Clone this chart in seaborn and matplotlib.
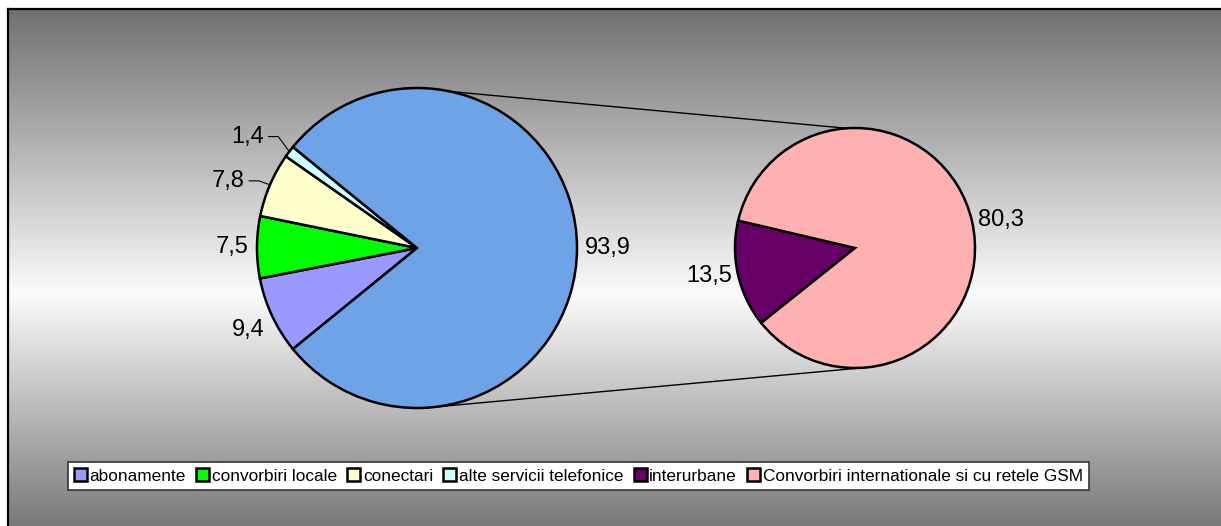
import numpy as np
import matplotlib
matplotlib.use("Agg")
import matplotlib.pyplot as plt
import seaborn as sns

# date
nume = ['abonamente', 'convorbiri locale', 'conectari', 'alte servicii telefonice',
        'interurbane', 'Convorbiri internationale si cu retele GSM']
valori_stanga = [9.4, 7.5, 7.8, 1.4, 93.9]   # ultima felie = restul (detaliat in dreapta)
valori_dreapta = [13.5, 80.3]
culori_stanga = ['#9999ff', '#00ff00', '#ffffcc', '#ccffff', '#6fa3e8']
culori_dreapta = ['#660066', '#ffb0b0']

sns.set_theme(style='white')
plt.rcParams['font.family'] = ['Liberation Sans', 'DejaVu Sans']
plt.rcParams['text.color'] = 'black'

W, H = 1221, 526
fig = plt.figure(figsize=(W / 100, H / 100), dpi=100)
fig.patch.set_facecolor('white')

# fundal cu gradient gri
bg = fig.add_axes([8 / W, 0, 1 - 8 / W, (H - 9) / H])
rows = np.arange(9, H)
shade = np.interp(rows, [9, 293, 526], [112, 250, 120]) / 255
bg.imshow(shade[:, None], cmap='gray', vmin=0, vmax=1, aspect='auto', extent=[0, 1, 0, 1])
bg.set_xticks([])
bg.set_yticks([])
for s in ['right', 'bottom']:
    bg.spines[s].set_visible(False)
for s in ['left', 'top']:
    bg.spines[s].set_color('black')
    bg.spines[s].set_linewidth(1.6)

ax = fig.add_axes([0, 0, 1, 1])
ax.patch.set_alpha(0)

c1, r1 = (417, H - 248), 160
c2, r2 = (855, H - 248), 120
start1 = 180 + sum(valori_stanga[:4]) / sum(valori_stanga) * 180
start2 = 218.6
wp = dict(edgecolor='black', linewidth=1.8)

w1, _ = ax.pie(valori_stanga, colors=culori_stanga, startangle=start1, counterclock=False,
               center=c1, radius=r1, wedgeprops=wp)
w2, _ = ax.pie(valori_dreapta, colors=culori_dreapta, startangle=start2, counterclock=False,
               center=c2, radius=r2, wedgeprops=wp)

ax.set_xlim(0, W)
ax.set_ylim(0, H)
ax.set_aspect('auto')
ax.axis('off')

def eticheta(v):
    return f'{v:.1f}'.replace('.', ',')

# etichete mutate cu linie de legatura (conectari, alte servicii)
mutate = {2: (-25, 4), 3: (-25, 15)}

def pune_etichete(wedges, vals, c, r, moved=None):
    moved = moved or {}
    for i, (w, v) in enumerate(zip(wedges, vals)):
        a = np.deg2rad((w.theta1 + w.theta2) / 2)
        if i in moved:
            px, py = c[0] + r * np.cos(a), c[1] + r * np.sin(a)
            dx, dy = moved[i]
            tx, ty = px + dx, py + dy
            ax.plot([tx + 4, tx + 14, px], [ty, ty, py], color='black', lw=0.8)
            ax.text(tx, ty, eticheta(v), ha='right', va='center', fontsize=17, color='black')
            continue
        x, y = c[0] + 1.05 * r * np.cos(a), c[1] + 1.05 * r * np.sin(a)
        ca, sa = np.cos(a), np.sin(a)
        ha = 'left' if ca > 0.1 else ('right' if ca < -0.1 else 'center')
        va = 'bottom' if sa > 0.3 else ('top' if sa < -0.3 else 'center')
        ax.text(x, y, eticheta(v), ha=ha, va=va, fontsize=17, color='black')

pune_etichete(w1, valori_stanga, c1, r1, mutate)
pune_etichete(w2, valori_dreapta, c2, r2)

# liniile dintre cele doua cercuri
for a1, a2 in [(78, 94), (274, 275)]:
    t1, t2 = np.deg2rad(a1), np.deg2rad(a2)
    ax.plot([c1[0] + r1 * np.cos(t1), c2[0] + r2 * np.cos(t2)],
            [c1[1] + r1 * np.sin(t1), c2[1] + r2 * np.sin(t2)], color='black', lw=1)

handles = list(w1[:4]) + list(w2)
leg = fig.legend(handles, nume, loc='center', bbox_to_anchor=(578.5 / W, 1 - 476 / H),
                 ncol=6, fontsize=12.4, frameon=True, fancybox=False, shadow=False,
                 handlelength=0.75, handleheight=0.75, handletextpad=0.15,
                 columnspacing=0.6, borderpad=0.35, borderaxespad=0, labelcolor='black')
leg.get_frame().set_edgecolor('#333333')
leg.get_frame().set_linewidth(1.2)
leg.get_frame().set_facecolor('white')
leg.get_frame().set_alpha(1)

fig.savefig('out.png', dpi=100)
